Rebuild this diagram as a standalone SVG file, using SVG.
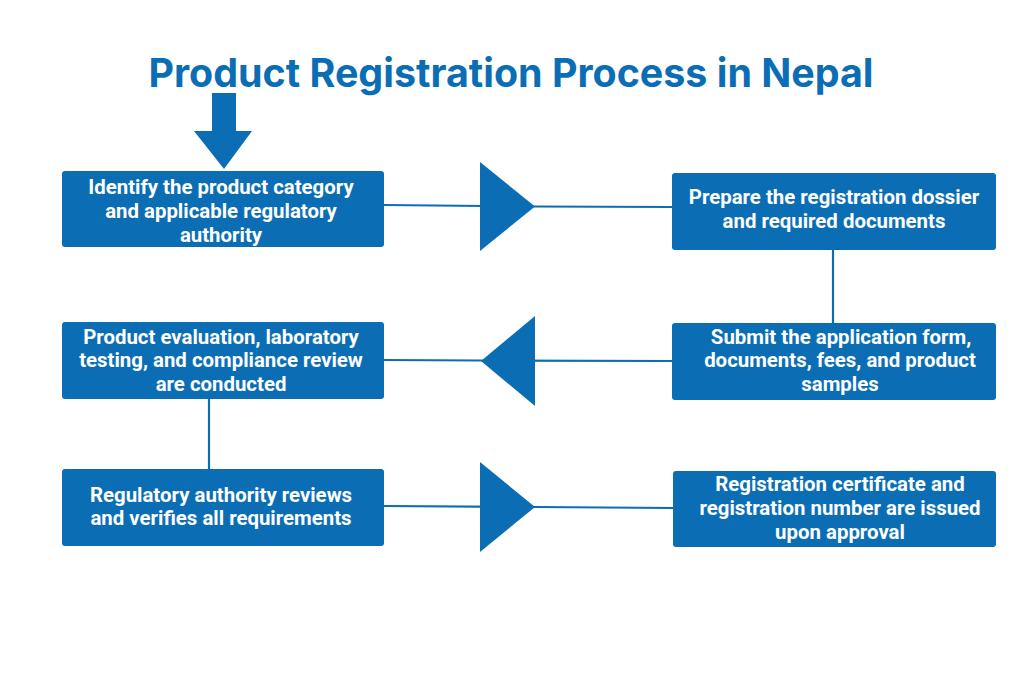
<svg xmlns="http://www.w3.org/2000/svg" width="1024" height="683" viewBox="0 0 1024 683">
<style>
.bg{fill:#ffffff}
.box{fill:#0B6EB5}
.t{font-family:Roboto,"Liberation Sans",sans-serif;font-weight:700;font-size:20.4px;fill:#ffffff;text-anchor:middle}
.title{font-family:Inter,"Liberation Sans",sans-serif;font-weight:700;font-size:39.4px;fill:#0B6EB5;text-anchor:middle}
.ln{stroke:#0B6EB5;stroke-width:2.2;fill:none}
.tri{fill:#0B6EB5}
</style>
<rect class="bg" x="0" y="0" width="1024" height="683"/>
<text class="title" x="511" y="87">Product Registration Process in Nepal</text>
<g id="connectors">
<path class="ln" d="M384 205 L535 206.5 L672 207"/>
<polygon class="tri" points="480,162 535,206.5 480,251"/>
<path class="ln" d="M672 361 L481 360.5 L384 360"/>
<polygon class="tri" points="535,316 481,361 535,406"/>
<path class="ln" d="M833 250 L833 323"/>
<path class="ln" d="M209 399 L209 469"/>
<path class="ln" d="M384 506 L535 507 L673 508"/>
<polygon class="tri" points="480,462 535,507 480,552"/>
<polygon class="tri" points="212,93 236,93 236,131 252,131 224,169 194,131 212,131"/>
</g>
<g id="n1">
<rect class="box" x="62" y="171" width="322" height="76" rx="3"/>
<text class="t" x="221" y="194">Identify the product category</text>
<text class="t" x="221" y="218">and applicable regulatory</text>
<text class="t" x="221" y="242">authority</text>
</g>
<g id="n2">
<rect class="box" x="672" y="173" width="324" height="77" rx="3"/>
<text class="t" x="834" y="204">Prepare the registration dossier</text>
<text class="t" x="834" y="228">and required documents</text>
</g>
<g id="n3">
<rect class="box" x="672" y="323" width="324" height="77" rx="3"/>
<text class="t" x="841" y="344">Submit the application form,</text>
<text class="t" x="840" y="367">documents, fees, and product</text>
<text class="t" x="840" y="391">samples</text>
</g>
<g id="n4">
<rect class="box" x="62" y="322" width="322" height="77" rx="3"/>
<text class="t" x="221" y="344">Product evaluation, laboratory</text>
<text class="t" x="221" y="367">testing, and compliance review</text>
<text class="t" x="221" y="391">are conducted</text>
</g>
<g id="n5">
<rect class="box" x="62" y="469" width="322" height="77" rx="3"/>
<text class="t" x="221" y="502">Regulatory authority reviews</text>
<text class="t" x="221" y="525">and verifies all requirements</text>
</g>
<g id="n6">
<rect class="box" x="673" y="471" width="323" height="76" rx="3"/>
<text class="t" x="840" y="491">Registration certificate and</text>
<text class="t" x="840" y="515">registration number are issued</text>
<text class="t" x="840" y="539">upon approval</text>
</g>
</svg>
